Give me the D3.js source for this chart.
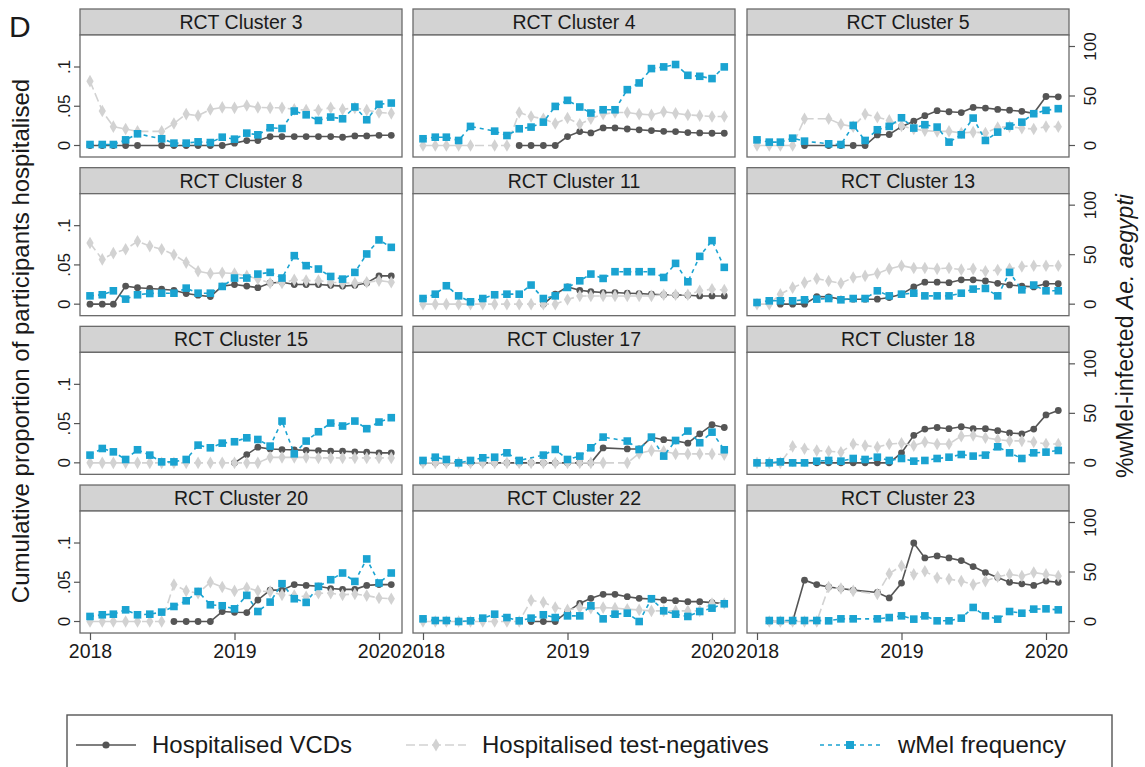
<!DOCTYPE html>
<html><head><meta charset="utf-8">
<script src="https://cdn.jsdelivr.net/npm/d3@7"></script>
<style>body{margin:0;background:#fff} svg{display:block} text{font-family:Arial,"Liberation Sans",sans-serif;fill:#1a1a1a}</style>
</head><body><svg id="c" width="1145" height="767"></svg>
<script>
// ---------- data ----------
const monthIndex = d3.range(26); // Jan 2018 .. Feb 2020
const clusterNames = ["RCT Cluster 3","RCT Cluster 4","RCT Cluster 5","RCT Cluster 8","RCT Cluster 11","RCT Cluster 13","RCT Cluster 15","RCT Cluster 17","RCT Cluster 18","RCT Cluster 20","RCT Cluster 22","RCT Cluster 23"];
const xTickYears = [2018, 2019, 2020];
const leftTicks = [0, 0.05, 0.1];
const leftTickLabels = ["0", ".05", ".1"];
const rightTicks = [0, 50, 100];
const seriesNames = ["Hospitalised VCDs", "Hospitalised test-negatives", "wMel frequency"];

const vcd3  = [0,0,0,0,0,null,0,0,0,0,0,0,0.003,0.0063,0.0063,0.0114,0.0114,0.0114,0.0114,0.0114,0.0114,0.0105,0.0122,0.0122,0.013,0.013];
const tn3   = [0.082,0.044,0.024,0.021,0.018,null,0.018,0.028,0.040,0.038,0.046,0.0485,0.048,0.051,0.0485,0.048,0.048,0.046,0.045,0.045,0.048,0.046,0.048,0.045,0.042,0.041];
const wmel3 = [1,1,1,5.7,11.8,null,6.8,2.4,2.4,3.7,3,8.4,6.4,12.5,10.8,17.9,17.2,34.8,31,25.3,28.7,27,38.9,26,41.6,42.9];

const vcd4  = [null,null,null,null,null,null,null,null,0,0,0,0,0.0114,0.0177,0.016,0.0224,0.0224,0.021,0.020,0.019,0.018,0.0177,0.0165,0.016,0.0156,0.0156];
const tn4   = [0,0,0,0,0,null,0,0,0.042,0.037,0.034,0.028,0.035,0.027,0.034,0.040,0.042,0.042,0.040,0.039,0.043,0.041,0.039,0.038,0.037,0.037];
const wmel4 = [6.8,8.4,8.4,5.1,19.3,null,14.5,10.1,16.9,18.6,23.6,39.5,45.6,38.9,32.8,36.1,36.1,56.4,63.2,77.7,79.4,81.8,70.9,69.9,67.6,79.4];

const vcd5  = [null,null,null,null,0,null,0,0,0,0,0.0135,0.014,0.024,0.031,0.038,0.0443,0.043,0.042,0.0485,0.0477,0.046,0.045,0.0435,0.041,0.0624,0.062];
const tn5   = [0,0,0,0,0.034,null,0.034,0.027,0.024,0.040,0.036,0.032,0.025,0.021,0.019,0.018,0.018,0.016,0.017,0.016,0.023,0.024,0.022,0.021,0.024,0.024];
const wmel5 = [5.7,3.4,3.4,7.4,4.4,null,1.7,1,20.3,5.1,15.9,19.3,28,17.6,21,18.6,3.4,10.8,27.7,5.1,13.5,19.6,23.6,32.1,35.5,37.2];

const vcd8  = [0,0,0,0.023,0.021,0.020,0.019,0.0177,0.0135,0.0114,0.0097,0.023,0.025,0.023,0.021,0.027,0.028,0.025,0.025,0.025,0.024,0.023,0.024,0.027,0.036,0.036];
const tn8   = [0.078,0.057,0.065,0.070,0.080,0.074,0.070,0.063,0.053,0.042,0.039,0.040,0.039,0.036,0.032,0.027,0.027,0.031,0.030,0.030,0.028,0.027,0.027,0.028,0.030,0.028];
const wmel8 = [8.4,9.5,13.5,5.1,9.5,10.8,11.1,11.1,16.2,11.1,11.1,17.9,26.4,26.4,30.4,32.1,26.4,49,38.9,35.5,28,25.3,32.1,50.7,64.9,57.4];

const vcd11  = [null,null,null,null,null,null,null,null,null,null,0,0.0127,0.022,0.0177,0.016,0.0148,0.0148,0.014,0.0135,0.0127,0.012,0.0118,0.0114,0.0105,0.0105,0.0105];
const tn11   = [0,0,0,0,0,0,0,0,0,0,0,0,0.006,0.0105,0.0105,0.0105,0.0105,0.0105,0.0105,0.0105,0.012,0.012,0.012,0.017,0.019,0.018];
const wmel11 = [5.7,10.1,18.6,8.4,2.4,5.7,9.5,10.1,10.1,19.3,5.7,8.4,16.9,23.6,30.4,26,32.8,32.8,32.8,32.8,27,41.2,22.6,48.3,64.2,37.2];

const vcd13  = [null,null,0,0,0,0.0097,0.0093,0.0063,0.0063,0.0063,0.0063,0.0084,0.0127,0.022,0.028,0.028,0.0274,0.031,0.031,0.0295,0.0266,0.0245,0.023,0.022,0.026,0.026];
const tn13   = [0,0,0.0127,0.021,0.0274,0.0325,0.0295,0.0266,0.034,0.036,0.039,0.045,0.049,0.046,0.046,0.045,0.046,0.044,0.045,0.042,0.0435,0.045,0.048,0.049,0.049,0.049];
const wmel13 = [1.7,3.4,3.4,3.4,4.4,5.1,5.7,4.4,5.7,5.7,13.5,8.4,10.1,11.1,8.4,8.4,8.4,11.1,15.2,15.9,8.4,32.1,14.5,19.3,13.5,13.5];

const vcd15  = [null,null,null,null,null,null,null,null,null,null,null,null,0,0.0105,0.020,0.0177,0.0169,0.0165,0.016,0.0156,0.0148,0.0148,0.014,0.0135,0.0127,0.0127];
const tn15   = [0,0,0,0,0,0,0,0,0,0,0,0,0,0,0,0.007,0.007,0.007,0.007,0.0063,0.0063,0.0063,0.0063,0.0063,0.0063,0.0063];
const wmel15 = [7.8,14.5,11.1,3.4,13.2,7.8,1,1,3.4,17.9,15.2,19.9,21.3,25.3,23.6,16.9,42.2,9.1,22,31.4,40.2,37.2,42.2,34.5,41.2,45.6];

const vcd17  = [0,0,0,0,0,0,0,0,0,0,0,0,0,0,0,0.019,null,0.0177,0.0177,0.0325,0.0295,0.028,0.025,0.037,0.0485,0.045];
const tn17   = [0,0,0,0,0,0,0,0,0,0,0,0,0,0,0,0,null,0,0.012,0.0156,0.0148,0.0114,0.0114,0.0114,0.0114,0.0105];
const wmel17 = [2.4,5.7,3.4,0,2.4,5.1,5.7,10.1,2.4,null,7.8,13.5,3.4,6.8,15.2,26,null,22,13.5,26,6.8,22.6,32.1,20.3,31,13.2];

const vcd18  = [0,0,0,0,0,0,0,0,0,0,0,0,0.0127,0.035,0.043,0.045,0.0435,0.046,0.0435,0.0435,0.041,0.038,0.037,0.043,0.061,0.0667];
const tn18   = [0,0,0,0.021,0.018,0.0156,0.0148,0.0135,0.024,0.022,0.020,0.024,0.025,0.022,0.0266,0.024,0.024,0.034,0.035,0.032,0.0295,0.028,0.028,0.0266,0.024,0.024];
const wmel18 = [0,0,1,0,0,1.7,2.4,1.7,4.4,3.4,5.7,2.4,4.4,1.7,2.4,4.4,5.7,8.4,6.8,7.8,16.2,10.1,4.4,10.1,10.8,12.5];

const vcd20  = [null,null,null,null,null,null,null,0,0,0,0,0.0127,0.0118,0.0114,0.0274,0.040,0.040,0.047,0.046,0.045,0.042,0.041,0.041,0.046,0.047,0.047];
const tn20   = [0,0,0,0,0,0,0,0.047,0.039,0.036,0.050,0.044,0.039,0.043,0.039,0.038,0.034,0.033,0.0316,0.036,0.036,0.034,0.035,0.033,0.030,0.029];
const wmel20 = [5.1,6.8,7.4,11.8,6.8,7.4,9.5,15.2,20.9,30.4,16.9,15.9,12.8,26.4,10.1,19.6,38.2,23,19.3,35.5,42.2,49,40.5,63.2,38.9,49];

const vcd22  = [null,null,null,null,null,null,null,null,null,0,0,0,0.0127,0.023,0.0295,0.0346,0.0346,0.0316,0.0295,0.0287,0.0274,0.0266,0.0253,0.0253,0.024,0.023];
const tn22   = [0,0,0,0,0,0,0,0,0,0.027,0.0245,0.0177,0.0148,0.0177,0.017,0.0177,0.017,0.0156,0.0148,0.0135,0.0135,0.0135,0.0135,0.0135,0.023,0.023];
const wmel22 = [2.7,1,1,0,0.7,3.4,7.4,4,0.7,3.4,6.8,4,5.7,5.7,15.9,2.7,7.4,8.4,0,23,10.8,7.4,5.1,10.1,13.5,17.9];

const vcd23  = [null,0,0,0,0.0527,0.047,0.044,0.042,0.040,null,0.037,0.030,0.049,0.100,0.081,0.0835,0.081,0.0776,0.070,0.0624,0.056,0.050,0.048,0.046,0.0515,0.050];
const tn23   = [null,0,0,0,0,0,0.044,0.042,0.039,null,0.035,0.061,0.071,0.060,0.064,0.0557,0.054,0.0515,0.047,0.0515,0.057,0.060,0.058,0.0624,0.060,0.058];
const wmel23 = [null,1,1,1,1,1,0.7,2.7,2.7,null,2.7,4,5.7,2.4,5.7,0.7,0.7,3.4,14.2,5.7,2.4,10.1,8.4,12.5,12.8,11.8];

const vcdAll  = [vcd3,vcd4,vcd5,vcd8,vcd11,vcd13,vcd15,vcd17,vcd18,vcd20,vcd22,vcd23];
const tnAll   = [tn3,tn4,tn5,tn8,tn11,tn13,tn15,tn17,tn18,tn20,tn22,tn23];
const wmelAll = [wmel3,wmel4,wmel5,wmel8,wmel11,wmel13,wmel15,wmel17,wmel18,wmel20,wmel22,wmel23];

// ---------- styles ----------
const colVCD = "#555555", colTN = "#d2d2d2", colW = "#1aa3d1";

// ---------- layout ----------
const svg = d3.select("#c");
const colLeft = [80, 413, 747], panelW = 322;
const rowTop = r => 9 + r * 158.67;
const headerH = 26, panelH = 148, zeroOff = 11.5;

const monthDate = i => new Date(2018, i, 1);

clusterNames.forEach((name, k) => {
  const r = Math.floor(k / 3), c = k % 3;
  const L = colLeft[c], T = rowTop(r);
  const plotTop = T + headerH, plotBottom = T + panelH;
  const y0 = plotBottom - zeroOff;
  const x = d3.scaleTime().domain([new Date(2018,0,1), new Date(2020,0,1)]).range([L + 10, L + 299]);
  const yL = d3.scaleLinear().domain([0, 0.1]).range([y0, y0 - 78.5]);
  const yR = d3.scaleLinear().domain([0, 100]).range([y0, y0 - 99]);

  const g = svg.append("g");
  // header
  g.append("rect").attr("x", L).attr("y", T).attr("width", panelW).attr("height", headerH)
    .attr("fill", "#d3d3d3").attr("stroke", "#6a6a6a").attr("stroke-width", 1.3);
  g.append("text").attr("x", L + panelW / 2).attr("y", T + headerH / 2 + 7)
    .attr("text-anchor", "middle").attr("font-size", 19.5).text(name);
  // plot frame
  g.append("rect").attr("x", L).attr("y", plotTop).attr("width", panelW).attr("height", plotBottom - plotTop)
    .attr("fill", "#fff").attr("stroke", "#6a6a6a").attr("stroke-width", 1.3);

  const mk = arr => monthIndex.map(i => ({d: monthDate(i), v: arr[i]})).filter(p => p.v !== null);
  const dV = mk(vcdAll[k]), dT = mk(tnAll[k]), dW = mk(wmelAll[k]);

  // VCD
  g.append("path").datum(dV).attr("fill", "none").attr("stroke", colVCD).attr("stroke-width", 1.6)
    .attr("d", d3.line().x(p => x(p.d)).y(p => yL(p.v)));
  g.selectAll(null).data(dV).join("circle").attr("cx", p => x(p.d)).attr("cy", p => yL(p.v))
    .attr("r", 3.4).attr("fill", colVCD);
  // test-negatives
  g.append("path").datum(dT).attr("fill", "none").attr("stroke", colTN).attr("stroke-width", 1.6)
    .attr("stroke-dasharray", "9,4").attr("d", d3.line().x(p => x(p.d)).y(p => yL(p.v)));
  g.selectAll(null).data(dT).join("path")
    .attr("transform", p => `translate(${x(p.d)},${yL(p.v)})`)
    .attr("d", d3.symbol(d3.symbolDiamond, 46)).attr("fill", colTN);
  // wMel
  g.append("path").datum(dW).attr("fill", "none").attr("stroke", colW).attr("stroke-width", 1.6)
    .attr("stroke-dasharray", "4,4").attr("d", d3.line().x(p => x(p.d)).y(p => yR(p.v)));
  g.selectAll(null).data(dW).join("rect")
    .attr("x", p => x(p.d) - 3.8).attr("y", p => yR(p.v) - 3.8).attr("width", 7.6).attr("height", 7.6)
    .attr("fill", colW);

  // axes
  if (c === 0) {
    const ax = g.append("g").attr("transform", `translate(${L},0)`)
      .call(d3.axisLeft(yL).tickValues(leftTicks).tickFormat((d, i) => leftTickLabels[i]).tickSize(6).tickPadding(3));
    ax.select(".domain").remove();
    ax.selectAll(".tick").attr("transform", null);
    ax.selectAll(".tick line").attr("stroke", "#555").attr("stroke-width", 1.2)
      .attr("y1", d => yL(d)).attr("y2", d => yL(d));
    ax.selectAll("text").attr("font-size", 17).attr("font-family", "Arial, Liberation Sans, sans-serif")
      .attr("transform", d => `rotate(-90, -16, ${yL(d)})`).attr("x", -16).attr("y", d => yL(d)).attr("dy", "0.35em")
      .attr("text-anchor", "middle").attr("fill", "#1a1a1a");
  }
  if (c === 2) {
    const ax = g.append("g").attr("transform", `translate(${L + panelW},0)`)
      .call(d3.axisRight(yR).tickValues(rightTicks).tickSize(6).tickPadding(3));
    ax.select(".domain").remove();
    ax.selectAll(".tick").attr("transform", null);
    ax.selectAll(".tick line").attr("stroke", "#555").attr("stroke-width", 1.2)
      .attr("y1", d => yR(d)).attr("y2", d => yR(d));
    ax.selectAll("text").attr("font-size", 17).attr("font-family", "Arial, Liberation Sans, sans-serif")
      .attr("transform", d => `rotate(-90, 21, ${yR(d)})`).attr("x", 21).attr("y", d => yR(d)).attr("dy", "0.35em")
      .attr("text-anchor", "middle").attr("fill", "#1a1a1a");
  }
  if (r === 3) {
    const ax = g.append("g").attr("transform", `translate(0,${plotBottom})`)
      .call(d3.axisBottom(x).tickValues(xTickYears.map(yv => new Date(yv, 0, 1))).tickFormat(d3.timeFormat("%Y")).tickSize(7).tickPadding(4));
    ax.select(".domain").remove();
    ax.selectAll("line").attr("stroke", "#555").attr("stroke-width", 1.2);
    ax.selectAll("text").attr("font-size", 19.5).attr("font-family", "Arial, Liberation Sans, sans-serif").attr("fill", "#1a1a1a");
  }
});

// panel letter
svg.append("text").attr("x", 9).attr("y", 37).attr("font-size", 30).text("D");

// axis titles
svg.append("text").attr("transform", "translate(29,341) rotate(-90)").attr("text-anchor", "middle")
  .attr("font-size", 24).text("Cumulative proportion of participants hospitalised");
const rt = svg.append("text").attr("transform", "translate(1133,336) rotate(-90)").attr("text-anchor", "middle")
  .attr("font-size", 23);
rt.append("tspan").text("%wMel-infected ");
rt.append("tspan").attr("font-style", "italic").text("Ae. aegypti");

// legend
const leg = svg.append("g");
leg.append("rect").attr("x", 67).attr("y", 715).attr("width", 1045).attr("height", 70)
  .attr("fill", "#fff").attr("stroke", "#555").attr("stroke-width", 1.4);
const ly = 745;
const legItems = [
  {x0: 76, tx: 152, col: colVCD, dash: null, shape: "circle"},
  {x0: 406, tx: 482, col: colTN, dash: "9,4", shape: "diamond"},
  {x0: 820, tx: 898, col: colW, dash: "4,4", shape: "square"}
];
legItems.forEach((it, i) => {
  leg.append("line").attr("x1", it.x0).attr("x2", it.x0 + 60).attr("y1", ly).attr("y2", ly)
    .attr("stroke", it.col).attr("stroke-width", 1.6).attr("stroke-dasharray", it.dash);
  const cx = it.x0 + 30;
  if (it.shape === "circle") leg.append("circle").attr("cx", cx).attr("cy", ly).attr("r", 3.6).attr("fill", it.col);
  if (it.shape === "diamond") leg.append("path").attr("transform", `translate(${cx},${ly})`).attr("d", d3.symbol(d3.symbolDiamond, 50)).attr("fill", it.col);
  if (it.shape === "square") leg.append("rect").attr("x", cx - 4).attr("y", ly - 4).attr("width", 8).attr("height", 8).attr("fill", it.col);
  leg.append("text").attr("x", it.tx).attr("y", ly + 8).attr("font-size", 24).text(seriesNames[i]);
});
</script></body></html>
